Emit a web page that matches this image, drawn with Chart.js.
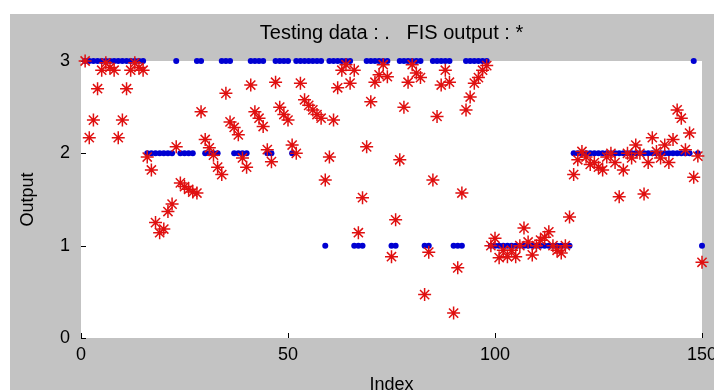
<!DOCTYPE html>
<html>
<head>
<meta charset="utf-8">
<script src="https://cdn.jsdelivr.net/npm/chart.js@4"></script>
<style>
  body { margin: 0; background: #fff; }
  #chart { display: block; }
</style>
</head>
<body>
<canvas id="chart" width="714" height="390"></canvas>
<script>
// sample index 1..150
const index = Array.from({ length: 150 }, (_, k) => k + 1);

// testing data (blue dots), class 1 / 2 / 3
const testingData = [
  3, 3, 3, 3, 3, 3, 3, 3, 3, 3, 3, 3, 3, 3, 3,
  2, 2, 2, 2, 2, 2, 2, 3, 2, 2, 2, 2, 3, 3,
  2, 2, 2, 2, 3, 3, 3, 2, 2, 2, 2, 3, 3, 3, 3,
  2, 2, 3, 3, 3, 3, 2, 3, 3, 3, 3, 3, 3, 3, 1,
  3, 3, 3, 3, 3, 3, 1, 1, 1, 3, 3, 3, 3, 3, 3,
  1, 1, 3, 3, 3, 3, 3, 3, 1, 1, 3, 3, 3, 3, 3,
  1, 1, 1, 3, 3, 3, 3, 3, 3,
  1, 1, 1, 1, 1, 1, 1, 1, 1, 1, 1, 1, 1, 1, 1, 1, 1, 1, 1, 1,
  2, 2, 2, 2, 2, 2, 2, 2, 2, 2, 2, 2, 2, 2, 2, 2, 2, 2, 2, 2,
  2, 2, 2, 2, 2, 2, 2, 2, 2, 3, 2, 1
];

// FIS output (red stars)
const fisOutput = [
  3.00, 2.17, 2.36, 2.70, 2.90, 2.98, 2.93, 2.90, 2.17, 2.36, 2.70, 2.90, 2.98, 2.93, 2.90,
  1.96, 1.82, 1.25, 1.14, 1.18, 1.37, 1.45, 2.07, 1.68, 1.64, 1.61, 1.58, 1.57,
  2.45, 2.15, 2.06, 1.98, 1.85, 1.77,
  2.65, 2.34, 2.28, 2.20, 1.95, 1.85,
  2.74, 2.45, 2.38, 2.29, 2.04, 1.91,
  2.77, 2.50, 2.42, 2.36, 2.09, 2.00,
  2.76, 2.58, 2.52, 2.47, 2.42, 2.38, 1.71, 1.96, 2.36, 2.71, 2.90, 2.96, 2.76, 2.90,
  1.14, 1.52, 2.07, 2.56, 2.77, 2.85, 2.96, 2.83,
  0.88, 1.28, 1.93, 2.50, 2.77, 2.96, 2.87, 2.82,
  0.47, 0.93, 1.71, 2.40, 2.74, 2.90, 2.77,
  0.27, 0.76, 1.57, 2.47, 2.61, 2.76, 2.82, 2.90, 2.95,
  1.00, 1.08, 0.87, 0.95, 0.88, 0.95, 0.88, 1.00, 1.19, 1.04,
  0.90, 1.00, 1.06, 1.09, 1.15, 1.00, 0.95, 0.92, 1.00, 1.31,
  1.77, 1.93, 2.02, 1.96, 1.88, 1.90, 1.85, 1.82, 1.96, 2.00,
  1.90, 1.53, 1.82, 2.00, 1.95, 2.09, 2.00, 1.56, 1.90, 2.17,
  2.02, 1.95, 2.09, 1.90, 2.15, 2.47, 2.38, 2.04, 2.22, 1.74,
  1.97, 0.82
];

const xTicks = [0, 50, 100, 150];
const yTicks = [0, 1, 2, 3];

const font = { family: 'Liberation Sans', size: 18, weight: 'normal' };

// figure background: white border, grey figure, white axes
const bgPlugin = {
  id: 'bg',
  beforeDraw(chart) {
    const { ctx, chartArea } = chart;
    ctx.save();
    ctx.fillStyle = '#ffffff';
    ctx.fillRect(0, 0, chart.width, chart.height);
    ctx.fillStyle = '#c3c3c3';
    ctx.fillRect(10, 14, chart.width - 10, chart.height - 14);
    ctx.fillStyle = '#ffffff';
    ctx.fillRect(chartArea.left, chartArea.top, chartArea.right - chartArea.left, chartArea.bottom - chartArea.top);
    ctx.restore();
  }
};

// small inward tick marks like matlab
const tickPlugin = {
  id: 'inTicks',
  beforeDatasetsDraw(chart) {
    const { ctx, chartArea, scales } = chart;
    ctx.save();
    ctx.strokeStyle = '#000';
    ctx.lineWidth = 1;
    ctx.beginPath();
    yTicks.forEach(v => {
      const y = Math.round(scales.y.getPixelForValue(v)) + 0.5;
      ctx.moveTo(chartArea.left, y);
      ctx.lineTo(chartArea.left + 5, y);
    });
    xTicks.forEach(v => {
      const x = Math.round(scales.x.getPixelForValue(v)) + 0.5;
      ctx.moveTo(x, chartArea.bottom);
      ctx.lineTo(x, chartArea.bottom - 5);
    });
    ctx.stroke();
    ctx.restore();
  }
};

new Chart(document.getElementById('chart').getContext('2d'), {
  type: 'scatter',
  data: {
    datasets: [
      {
        label: 'FIS output',
        data: fisOutput.map((v, k) => ({ x: index[k], y: v })),
        pointStyle: 'star',
        pointRadius: 6.5,
        borderColor: '#e01010',
        backgroundColor: '#e01010',
        borderWidth: 1.5,
        clip: false,
        order: 0
      },
      {
        label: 'Testing data',
        data: testingData.map((v, k) => ({ x: index[k], y: v })),
        pointStyle: 'circle',
        pointRadius: 3,
        borderWidth: 0,
        backgroundColor: '#0000d2',
        borderColor: '#0000d2',
        clip: false,
        order: 1
      }
    ]
  },
  options: {
    responsive: false,
    animation: false,
    layout: { padding: { top: 5, right: 12, bottom: -6, left: 0 } },
    plugins: {
      legend: { display: false },
      tooltip: { enabled: false },
      title: {
        display: true,
        fullSize: false,
        text: 'Testing data : .   FIS output : *',
        color: '#000',
        font: { family: 'Liberation Sans', size: 20, weight: 'normal' },
        padding: { top: 16, bottom: 16 }
      }
    },
    scales: {
      x: {
        type: 'linear',
        min: 0,
        max: 150,
        afterBuildTicks(s) { s.ticks = xTicks.map(v => ({ value: v })); },
        ticks: { color: '#000', font: font, padding: 6, maxRotation: 0 },
        grid: { display: false, drawTicks: false },
        border: { display: false },
        title: { display: true, text: 'Index', color: '#000', font: font, padding: { top: 0, bottom: 0 } },
        afterFit(s) { s.height = 58; s.paddingLeft = 0; s.paddingRight = 0; }
      },
      y: {
        min: 0,
        max: 3,
        afterBuildTicks(s) { s.ticks = yTicks.map(v => ({ value: v })); },
        ticks: { color: '#000', font: font, padding: 11 },
        grid: { display: false, drawTicks: false },
        border: { display: false },
        title: { display: true, text: 'Output', color: '#000', font: font, padding: { top: 17, bottom: 0 } },
        afterFit(s) { s.width = 81; s.paddingTop = 0; s.paddingBottom = 0; }
      }
    }
  },
  plugins: [bgPlugin, tickPlugin]
});
</script>
</body>
</html>
